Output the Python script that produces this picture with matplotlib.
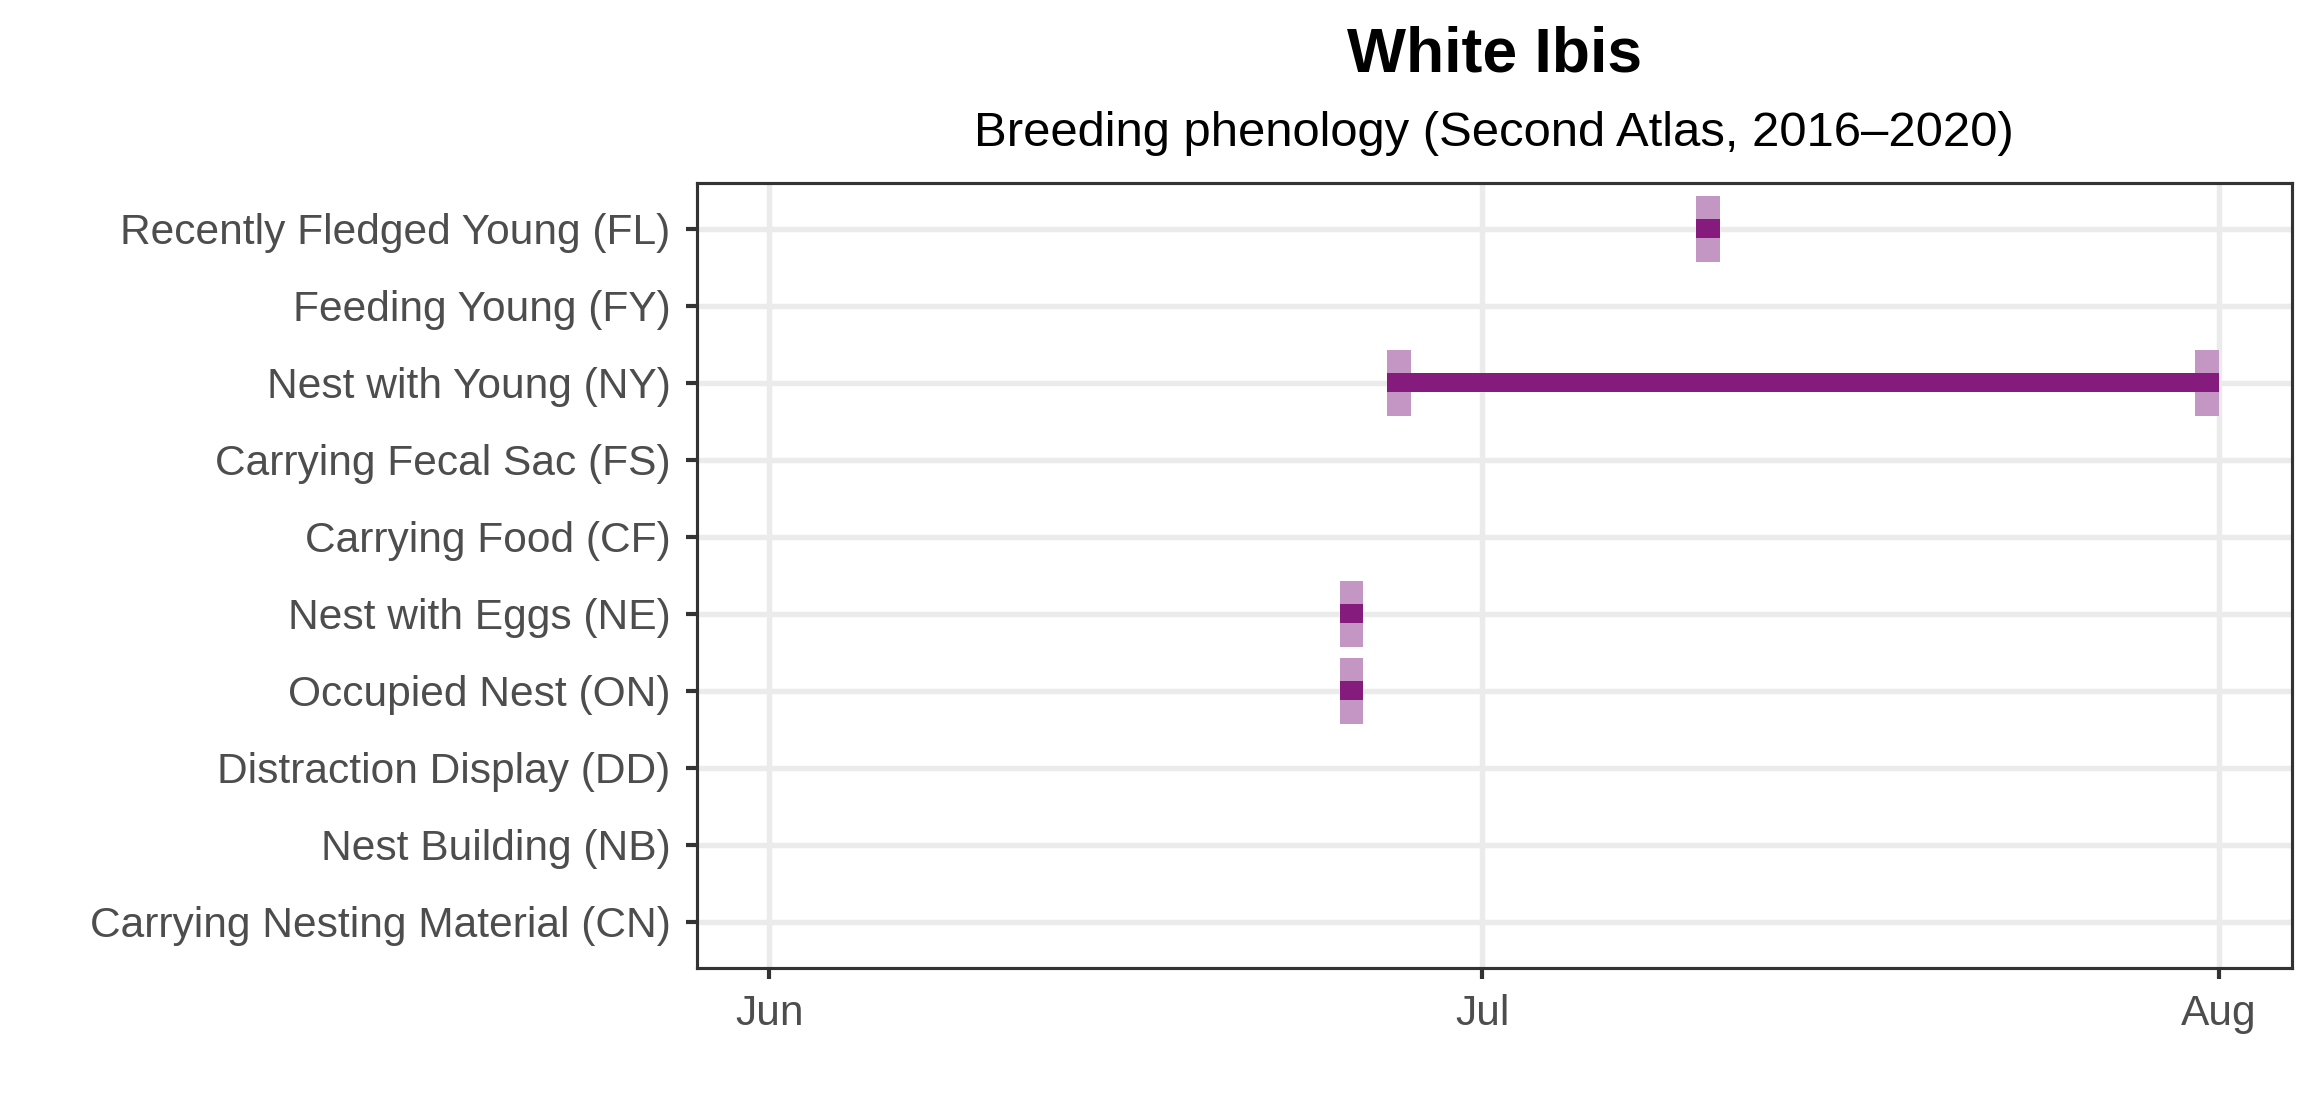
import matplotlib
matplotlib.use("Agg")
import matplotlib.pyplot as plt
import matplotlib.dates as mdates
import numpy as np
import datetime as dt

plt.rcParams['font.family'] = ['Liberation Sans', 'DejaVu Sans']

# ---- data ----
YEAR = 2020
categories = [
    "Carrying Nesting Material (CN)",
    "Nest Building (NB)",
    "Distraction Display (DD)",
    "Occupied Nest (ON)",
    "Nest with Eggs (NE)",
    "Carrying Food (CF)",
    "Carrying Fecal Sac (FS)",
    "Nest with Young (NY)",
    "Feeding Young (FY)",
    "Recently Fledged Young (FL)",
]
# observation dates (month, day) per breeding code
obs_CN = []
obs_NB = []
obs_DD = []
obs_ON = [(6, 25)]
obs_NE = [(6, 25)]
obs_CF = []
obs_FS = []
obs_NY = [(6, 27), (7, 31)]
obs_FY = []
obs_FL = [(7, 10)]
observations = [obs_CN, obs_NB, obs_DD, obs_ON, obs_NE, obs_CF, obs_FS, obs_NY, obs_FY, obs_FL]

x_ticks = [(6, 1), (7, 1), (8, 1)]
x_tick_labels = ["Jun", "Jul", "Aug"]

title = "White Ibis"
subtitle = "Breeding phenology (Second Atlas, 2016\u20132020)"

# ---- style ----
LIGHT = "#C496C4"
DARK = "#861B7E"
GRID = "#EBEBEB"
INK = "#333333"
LABEL = "#4D4D4D"

W, H, DPI = 2320, 1120, 300
fig = plt.figure(figsize=(W / DPI, H / DPI), dpi=DPI)
ax = fig.add_axes([0.3003, 0.1360, 0.6875, 0.7009])

def d(md):
    return mdates.date2num(dt.date(YEAR, md[0], md[1]))

ypos = np.arange(1, len(categories) + 1)
for y, obs in zip(ypos, observations):
    if not obs:
        continue
    starts = np.array([d(o) for o in obs])
    ax.barh([y] * len(starts), width=np.ones(len(starts)), left=starts,
            height=0.86, color=LIGHT, linewidth=0, zorder=3)
    ax.barh([y], width=[starts.max() + 1 - starts.min()], left=[starts.min()],
            height=0.25, color=DARK, linewidth=0, zorder=4)

xt = [d(t) for t in x_ticks]
span = xt[-1] - xt[0]
ax.set_xlim(xt[0] - 0.05 * span, xt[-1] + 0.05 * span)
ax.set_ylim(0.4, len(categories) + 0.6)
ax.set_xticks(xt)
ax.set_xticklabels(x_tick_labels)
ax.set_yticks(ypos)
ax.set_yticklabels(categories)

ax.grid(True, color=GRID, linewidth=1.3, zorder=0)
ax.set_axisbelow(True)
for s in ax.spines.values():
    s.set_color(INK)
    s.set_linewidth(0.75)
ax.tick_params(axis='both', colors=INK, length=2.75, width=1.0,
               labelsize=10.2, labelcolor=LABEL)
ax.tick_params(axis='y', pad=3.5)
ax.tick_params(axis='x', pad=3.5)

cx = 0.3003 + 0.6875 / 2
fig.text(cx, 1 - 72 / H, title, ha='center', va='baseline',
         fontsize=15, fontweight='bold', color='black')
fig.text(cx, 1 - 146 / H, subtitle, ha='center', va='baseline',
         fontsize=11.75, color='black')

fig.savefig("out.png", dpi=DPI, facecolor='white')
